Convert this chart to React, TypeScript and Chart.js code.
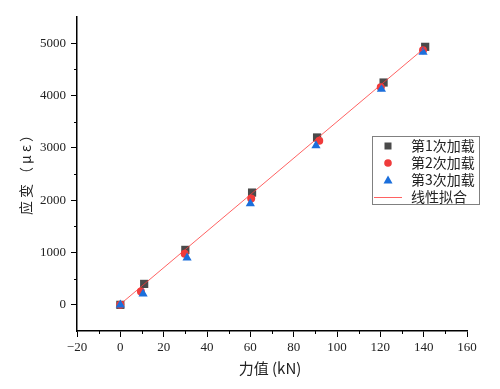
import React, { useEffect, useRef } from "react";
import { Chart, registerables } from "chart.js";

Chart.register(...registerables);

const loadX1 = [0, 11, 30, 60.8, 90.8, 121.5, 140.7];
const strain1 = [0, 400, 1050, 2145, 3198, 4248, 4930];
const loadX2 = [0, 9.5, 29.7, 60.4, 91.8, 120.2, 139.7];
const strain2 = [0, 254, 975, 2034, 3135, 4160, 4866];
const loadX3 = [0, 10.5, 30.8, 60, 90.3, 120.5, 139.7];
const strain3 = [0, 210, 900, 1935, 3045, 4120, 4830];
const fitX = [0.8, 140.7];
const fitY = [40, 4918];

const seriesNames = ["第1次加载", "第2次加载", "第3次加载", "线性拟合"];
const xTitle = "力值 (kN)";
const yTitle = "应变（με）";
const xMin = -20, xMax = 160, xStep = 20;
const yMin = -500, yMax = 5500, yStep = 1000;

const colSquare = "#4a4a4a";
const colCircle = "#ef3b3b";
const colTri = "#1b6fdc";
const colLine = "#ff3a3a";

const toPts = (xs: number[], ys: number[]) => xs.map((x, i) => ({ x, y: ys[i] }));

const CA = { left: 77, right: 467, top: 17, bottom: 331 };
const W = 500, H = 389;

const fmt = (v: number) => (v < 0 ? "\u2212" + Math.abs(v) : String(v));

const decoPlugin = {
  id: "deco",
  afterDraw(chart: any) {
    const ctx = chart.ctx;
    const xs = chart.scales.x, ys = chart.scales.y;
    const ca = chart.chartArea;
    ctx.save();
    ctx.strokeStyle = "#000";
    ctx.lineWidth = 1;
    for (let v = xMin + xStep / 2; v < xMax; v += xStep) {
      const px = Math.round(xs.getPixelForValue(v)) + 0.5;
      ctx.beginPath();
      ctx.moveTo(px, ca.bottom);
      ctx.lineTo(px, ca.bottom + 3);
      ctx.stroke();
    }
    for (let v = 500; v < yMax; v += yStep) {
      const py = Math.round(ys.getPixelForValue(v)) + 0.5;
      ctx.beginPath();
      ctx.moveTo(ca.left, py);
      ctx.lineTo(ca.left - 3, py);
      ctx.stroke();
    }
    ctx.fillStyle = "#222";
    ctx.font = '15px "Noto Sans CJK SC", "Liberation Serif", serif';
    ctx.textAlign = "center";
    ctx.textBaseline = "middle";
    ctx.fillText(xTitle, (ca.left + ca.right) / 2 - 2, 368);
    ctx.save();
    ctx.translate(26, 170);
    ctx.rotate(-Math.PI / 2);
    ctx.font = '14px "Noto Sans CJK SC", serif';
    (ctx as any).letterSpacing = "3px";
    ctx.fillText(yTitle, 0, 0);
    (ctx as any).letterSpacing = "0px";
    ctx.restore();
    const lx = 372.5, ly = 136.5, lw = 107, lh = 68;
    ctx.fillStyle = "#fff";
    ctx.fillRect(lx, ly, lw, lh);
    ctx.strokeStyle = "#808080";
    ctx.lineWidth = 1;
    ctx.strokeRect(lx, ly, lw, lh);
    const rowY = [146, 163, 180, 197];
    const mx = 388;
    ctx.fillStyle = colSquare;
    ctx.fillRect(mx - 3.5, rowY[0] - 3.5, 7, 7);
    ctx.fillStyle = colCircle;
    ctx.beginPath();
    ctx.arc(mx, rowY[1], 3.8, 0, Math.PI * 2);
    ctx.fill();
    ctx.fillStyle = colTri;
    ctx.beginPath();
    ctx.moveTo(mx, rowY[2] - 4.5);
    ctx.lineTo(mx + 4.5, rowY[2] + 3.5);
    ctx.lineTo(mx - 4.5, rowY[2] + 3.5);
    ctx.closePath();
    ctx.fill();
    ctx.strokeStyle = colLine;
    ctx.lineWidth = 0.8;
    ctx.beginPath();
    ctx.moveTo(374, rowY[3] + 0.5);
    ctx.lineTo(402, rowY[3] + 0.5);
    ctx.stroke();
    ctx.fillStyle = "#222";
    ctx.textAlign = "left";
    ctx.font = '14px "Noto Sans CJK SC", serif';
    seriesNames.forEach((n, i) => ctx.fillText(n, 411, rowY[i]));
    ctx.restore();
  },
};

export default function App() {
  const ref = useRef<HTMLCanvasElement>(null);
  useEffect(() => {
    document.body.style.margin = "0";
    const chart = new Chart(ref.current!, {
      type: "scatter",
      data: {
        datasets: [
          {
            label: seriesNames[3],
            type: "line",
            data: toPts(fitX, fitY),
            borderColor: colLine,
            borderWidth: 0.8,
            pointRadius: 0,
            fill: false,
            order: 0,
          },
          {
            label: seriesNames[2],
            data: toPts(loadX3, strain3),
            pointStyle: "triangle",
            pointRadius: 5.3,
            backgroundColor: colTri,
            borderColor: colTri,
            borderWidth: 0,
            order: 1,
          },
          {
            label: seriesNames[1],
            data: toPts(loadX2, strain2),
            pointStyle: "circle",
            pointRadius: 4,
            backgroundColor: colCircle,
            borderColor: colCircle,
            borderWidth: 0,
            order: 2,
          },
          {
            label: seriesNames[0],
            data: toPts(loadX1, strain1),
            pointStyle: "rect",
            pointRadius: 5.8,
            backgroundColor: colSquare,
            borderColor: colSquare,
            borderWidth: 0,
            order: 3,
          },
        ],
      },
      options: {
        animation: false,
        responsive: false,
        layout: { padding: { left: 0, right: W - CA.right, top: CA.top, bottom: 0 } },
        plugins: { legend: { display: false }, tooltip: { enabled: false } },
        scales: {
          x: {
            type: "linear",
            min: xMin,
            max: xMax,
            ticks: {
              stepSize: xStep,
              color: "#222",
              padding: 3,
              maxRotation: 0,
              font: { family: '"Liberation Serif", serif', size: 13 },
              callback: (v: any) => fmt(Number(v)),
            },
            grid: { drawOnChartArea: false, drawTicks: true, tickLength: 6, color: "#000", tickColor: "#000" },
            border: { display: true, color: "#000", width: 1.5 },
            afterFit: (s: any) => {
              s.height = H - CA.bottom;
            },
          },
          y: {
            type: "linear",
            min: yMin,
            max: yMax,
            afterBuildTicks: (s: any) => {
              const t = [];
              for (let v = 0; v <= 5000; v += yStep) t.push({ value: v });
              s.ticks = t;
            },
            ticks: {
              color: "#222",
              padding: 5,
              font: { family: '"Liberation Serif", serif', size: 13 },
              callback: (v: any) => fmt(Number(v)),
            },
            grid: { drawOnChartArea: false, drawTicks: true, tickLength: 6, color: "#000", tickColor: "#000" },
            border: { display: true, color: "#000", width: 1.5 },
            afterFit: (s: any) => {
              s.width = CA.left;
            },
          },
        },
      },
      plugins: [decoPlugin],
    } as any);
    return () => chart.destroy();
  }, []);
  return (
    <div style={{ width: W, height: H }}>
      <canvas ref={ref} width={W} height={H} style={{ display: "block" }} />
    </div>
  );
}
